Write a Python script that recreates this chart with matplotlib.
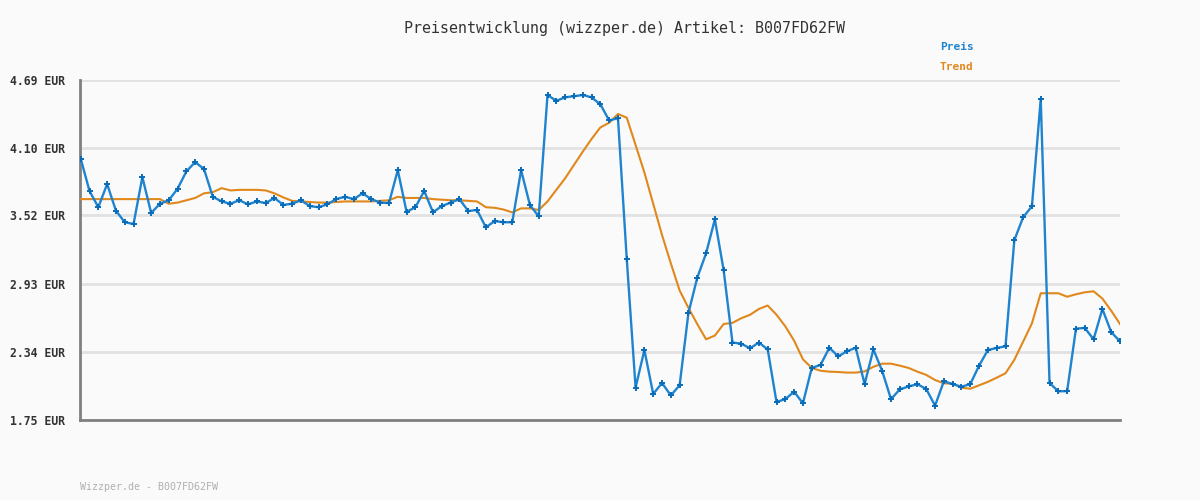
import matplotlib
matplotlib.use("Agg")
import matplotlib.pyplot as plt
import numpy as np

preis = [4.01, 3.73, 3.59, 3.79, 3.56, 3.46, 3.445, 3.85, 3.54, 3.62,
         3.65, 3.75, 3.90, 3.98, 3.92, 3.68, 3.64, 3.62, 3.65, 3.615,
         3.64, 3.626, 3.67, 3.61, 3.62, 3.65, 3.60, 3.59, 3.615, 3.66,
         3.68, 3.66, 3.71, 3.66, 3.63, 3.626, 3.91, 3.55, 3.59, 3.73,
         3.546, 3.60, 3.63, 3.66, 3.557, 3.566, 3.416, 3.47, 3.46, 3.46,
         3.91, 3.61, 3.51, 4.56, 4.51, 4.54, 4.55, 4.56, 4.54, 4.48,
         4.34, 4.36, 3.14, 2.03, 2.355, 1.975, 2.07, 1.963, 2.05, 2.675,
         2.98, 3.19, 3.485, 3.044, 2.42, 2.41, 2.37, 2.42, 2.36, 1.906,
         1.93, 1.995, 1.894, 2.20, 2.226, 2.375, 2.30, 2.344, 2.375, 2.06,
         2.36, 2.174, 1.93, 2.015, 2.04, 2.06, 2.018, 1.874, 2.085, 2.06,
         2.038, 2.06, 2.22, 2.355, 2.373, 2.387, 3.304, 3.503, 3.598, 4.526,
         2.07, 1.998, 2.0, 2.54, 2.546, 2.448, 2.71, 2.51, 2.43]

trend = [3.66, 3.66, 3.66, 3.66, 3.66, 3.66, 3.66, 3.66, 3.66, 3.66,
         3.62, 3.63, 3.65, 3.67, 3.71, 3.72, 3.755, 3.735, 3.74, 3.74,
         3.74, 3.735, 3.71, 3.675, 3.645, 3.64, 3.635, 3.63, 3.63, 3.635,
         3.64, 3.64, 3.64, 3.64, 3.645, 3.65, 3.68, 3.67, 3.67, 3.67,
         3.66, 3.655, 3.65, 3.65, 3.645, 3.64, 3.59, 3.585, 3.57, 3.545,
         3.58, 3.58, 3.566, 3.64, 3.74, 3.84, 3.955, 4.07, 4.18, 4.28,
         4.32, 4.396, 4.364, 4.128, 3.89, 3.62, 3.35, 3.105, 2.87, 2.72,
         2.58, 2.448, 2.48, 2.58, 2.59, 2.63, 2.66, 2.71, 2.74, 2.66,
         2.56, 2.436, 2.275, 2.20, 2.176, 2.168, 2.165, 2.16, 2.16, 2.17,
         2.21, 2.237, 2.237, 2.22, 2.20, 2.168, 2.14, 2.096, 2.067, 2.065,
         2.03, 2.02, 2.05, 2.08, 2.116, 2.154, 2.27, 2.427, 2.586, 2.846,
         2.846, 2.846, 2.816, 2.837, 2.854, 2.863, 2.80, 2.695, 2.58]

yticks = [1.75, 2.34, 2.93, 3.52, 4.10, 4.69]
ytick_labels = ["1.75 EUR", "2.34 EUR", "2.93 EUR", "3.52 EUR", "4.10 EUR", "4.69 EUR"]

bg = "#fafafa"
blau = "#1f84cf"
orange = "#e0881c"
mono = "DejaVu Sans Mono"

fig = plt.figure(figsize=(12, 5), dpi=100, facecolor=bg)
ax = fig.add_axes([80 / 1200, 80 / 500, 1040 / 1200, 340 / 500], facecolor=bg)

x = np.arange(len(preis))
ax.plot(x, trend, color=orange, lw=1.5, zorder=3)
ax.plot(x, preis, color=blau, lw=1.7, marker="+", ms=4, mew=1.4,
        mec="#0a6cb8", zorder=4)

ax.set_xlim(-0.08, len(preis) - 1)
ax.set_ylim(1.75, 4.69)
ax.set_yticks(yticks)
ax.set_yticklabels(ytick_labels, fontfamily=mono, fontweight="bold",
                   fontsize=8.3, color="#333333")
ax.set_xticks([])
ax.tick_params(axis="y", length=0, pad=10.5)
ax.grid(axis="y", color="#e2e2e2", lw=2)
ax.set_axisbelow(True)

for s in ["top", "right"]:
    ax.spines[s].set_visible(False)
ax.spines["left"].set_color("#808080")
ax.spines["left"].set_linewidth(2)
ax.spines["bottom"].set_color("#808080")
ax.spines["bottom"].set_linewidth(2)

fig.text(624 / 1200, 1 - 28 / 500, "Preisentwicklung (wizzper.de) Artikel: B007FD62FW",
         ha="center", va="center", fontfamily=mono, fontsize=10.8, color="#333333")
fig.text(940 / 1200, 1 - 47 / 500, "Preis", ha="left", va="center",
         fontfamily=mono, fontweight="bold", fontsize=8, color=blau)
fig.text(940 / 1200, 1 - 67 / 500, "Trend", ha="left", va="center",
         fontfamily=mono, fontweight="bold", fontsize=8, color=orange)
fig.text(80 / 1200, 1 - 487 / 500, "Wizzper.de - B007FD62FW", ha="left", va="center",
         fontfamily=mono, fontsize=7.2, color="#b0b0b0")

fig.savefig("out.png", dpi=100, facecolor=bg)
